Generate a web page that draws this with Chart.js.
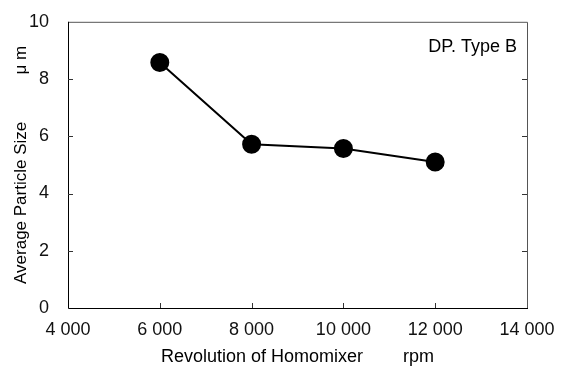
<!DOCTYPE html>
<html>
<head>
<meta charset="utf-8">
<script src="https://cdn.jsdelivr.net/npm/chart.js@4"></script>
<style>
  html, body { margin: 0; padding: 0; background: #fff; }
  #wrap { width: 572px; height: 370px; }
</style>
</head>
<body>
<div id="wrap"><canvas id="sizeChart"></canvas></div>
<script>
// data
let rpmValues = [6000, 8000, 10000, 12000];
let particleSize = [8.58, 5.72, 5.57, 5.10];
let xTickValues = [4000, 6000, 8000, 10000, 12000, 14000];
let yTickValues = [0, 2, 4, 6, 8, 10];
let seriesLabel = 'DP. Type B';

let FONT = '"Liberation Sans", Arial, sans-serif';

// frame + inward tick marks + in-plot label
const frameAndTicks = {
    id: 'frameAndTicks',
    afterDatasetsDraw(chart) {
        let ctx = chart.ctx;
        let a = chart.chartArea;
        let xs = chart.scales.x;
        let ys = chart.scales.y;
        let len = 5;
        ctx.save();
        ctx.lineWidth = 1;
        // top and right edges (lighter)
        ctx.strokeStyle = '#555';
        ctx.beginPath();
        ctx.moveTo(a.left, a.top + 0.5);
        ctx.lineTo(a.right + 0.5, a.top + 0.5);
        ctx.lineTo(a.right + 0.5, a.bottom);
        ctx.stroke();
        // left and bottom edges
        ctx.strokeStyle = '#000';
        ctx.beginPath();
        ctx.moveTo(a.left + 0.5, a.top);
        ctx.lineTo(a.left + 0.5, a.bottom + 0.5);
        ctx.lineTo(a.right + 1, a.bottom + 0.5);
        ctx.stroke();
        // tick marks
        ctx.strokeStyle = '#333';
        ctx.beginPath();
        yTickValues.forEach(v => {
            if (v === yTickValues[0] || v === yTickValues[yTickValues.length - 1]) return;
            let py = Math.round(ys.getPixelForValue(v)) + 0.5;
            ctx.moveTo(a.left, py);
            ctx.lineTo(a.left + len, py);
            ctx.moveTo(a.right, py);
            ctx.lineTo(a.right - len, py);
        });
        xTickValues.forEach(v => {
            if (v === xTickValues[0] || v === xTickValues[xTickValues.length - 1]) return;
            let px = Math.round(xs.getPixelForValue(v)) + 0.5;
            ctx.moveTo(px, a.bottom);
            ctx.lineTo(px, a.bottom - len);
        });
        ctx.stroke();
        // label in the upper right corner
        ctx.fillStyle = '#000';
        ctx.font = '18px ' + FONT;
        ctx.textAlign = 'right';
        ctx.textBaseline = 'middle';
        ctx.fillText(seriesLabel, a.right - 10, a.top + 25);
        ctx.restore();
    }
};

let ctx = document.getElementById('sizeChart').getContext('2d');
let myChart = new Chart(ctx, {
    type: 'scatter',
    data: {
        datasets: [{
            label: seriesLabel,
            data: rpmValues.map((x, i) => ({ x: x, y: particleSize[i] })),
            showLine: true,
            borderColor: '#000',
            borderWidth: 2,
            pointBackgroundColor: '#000',
            pointBorderColor: '#000',
            pointRadius: 8.5,
            pointHoverRadius: 8.5
        }]
    },
    options: {
        responsive: true,
        maintainAspectRatio: false,
        animation: false,
        layout: { padding: { left: 0, right: 45, top: 20, bottom: 0 } },
        plugins: {
            legend: { display: false },
            tooltip: { enabled: false }
        },
        scales: {
            x: {
                type: 'linear',
                min: 4000,
                max: 14000,
                afterBuildTicks: s => { s.ticks = xTickValues.map(v => ({ value: v })); },
                afterFit: s => { s.height = 62; },
                grid: { display: false },
                border: { display: false },
                ticks: {
                    color: '#111',
                    padding: 3,
                    maxRotation: 0,
                    font: { family: FONT, size: 18 },
                    callback: v => String(v).replace(/\B(?=(\d{3})+(?!\d))/g, ' ')
                },
                title: {
                    display: true,
                    text: 'Revolution of Homomixer        rpm',
                    color: '#000',
                    font: { family: FONT, size: 18 },
                    padding: { top: 0, bottom: 2 }
                }
            },
            y: {
                min: 0,
                max: 10,
                afterBuildTicks: s => { s.ticks = yTickValues.map(v => ({ value: v })); },
                afterFit: s => { s.width = 68; },
                grid: { display: false },
                border: { display: false },
                ticks: {
                    color: '#111',
                    padding: 11,
                    font: { family: FONT, size: 18 }
                },
                title: {
                    display: true,
                    text: 'Average Particle Size          \u03bc m',
                    color: '#000',
                    font: { family: FONT, size: 17 },
                    padding: { top: 11, bottom: 0 }
                }
            }
        }
    },
    plugins: [frameAndTicks]
});
</script>
</body>
</html>
